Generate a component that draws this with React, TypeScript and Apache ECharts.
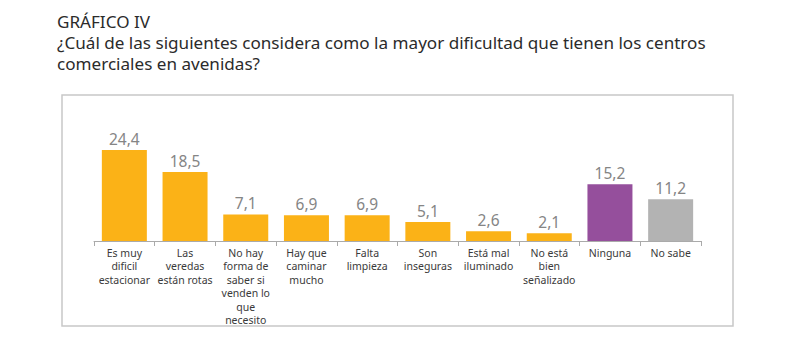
import React, { useEffect, useRef } from "react";
import * as echarts from "echarts";

const categories = [
  "Es muy\ndificil\nestacionar",
  "Las\nveredas\nestán rotas",
  "No hay\nforma de\nsaber si\nvenden lo\nque\nnecesito",
  "Hay que\ncaminar\nmucho",
  "Falta\nlimpieza",
  "Son\ninseguras",
  "Está mal\niluminado",
  "No está\nbien\nseñalizado",
  "Ninguna",
  "No sabe",
];
const values = [24.4, 18.5, 7.1, 6.9, 6.9, 5.1, 2.6, 2.1, 15.2, 11.2];
const colors = [
  "#FBB217", "#FBB217", "#FBB217", "#FBB217", "#FBB217",
  "#FBB217", "#FBB217", "#FBB217", "#954F9C", "#B3B3B3",
];
const titleLines = [
  "GRÁFICO IV",
  "¿Cuál de las siguientes considera como la mayor dificultad que tienen los centros",
  "comerciales en avenidas?",
];

export default function App() {
  const ref = useRef<HTMLDivElement>(null);
  useEffect(() => {
    if (!ref.current) return;
    const chart = echarts.init(ref.current, undefined, { renderer: "svg" });
    const font = "'Noto Sans', sans-serif";
    chart.setOption({
      animation: false,
      backgroundColor: "#ffffff",
      textStyle: { fontFamily: font },
      graphic: [
        ...titleLines.map((t, i) => ({
          type: "text",
          left: 57,
          top: 13 + i * 21,
          style: { text: t, fontSize: 17.1, fill: "#2b2b2b", fontFamily: font },
        })),
        {
          type: "rect",
          shape: { x: 62, y: 95, width: 671, height: 231 },
          style: { fill: "none", stroke: "#c8c8c8", lineWidth: 1.5 },
        },
      ],
      grid: { left: 94, right: 99, top: 129, bottom: 113 },
      xAxis: {
        type: "category",
        data: categories,
        axisLine: { lineStyle: { color: "#aaaaaa", width: 1 } },
        axisTick: { show: true, length: 5, lineStyle: { color: "#aaaaaa" } },
        axisLabel: {
          interval: 0,
          color: "#3a3a3a",
          fontSize: 10.5,
          lineHeight: 13.5,
          margin: 5,
          fontFamily: font,
        },
      },
      yAxis: {
        type: "value",
        min: 0,
        max: 30,
        show: false,
        splitLine: { show: false },
      },
      series: [
        {
          type: "bar",
          data: values.map((v, i) => ({ value: v, itemStyle: { color: colors[i] } })),
          barWidth: 45,
          label: {
            show: true,
            position: "top",
            distance: 3,
            color: "#858585",
            fontSize: 15.5,
            fontFamily: font,
            formatter: (p: any) => String(p.value).replace(".", ","),
          },
        },
      ],
    });
    return () => chart.dispose();
  }, []);
  return (
    <div
      ref={ref}
      style={{ position: "fixed", left: 0, top: 0, width: 800, height: 354 }}
    />
  );
}
